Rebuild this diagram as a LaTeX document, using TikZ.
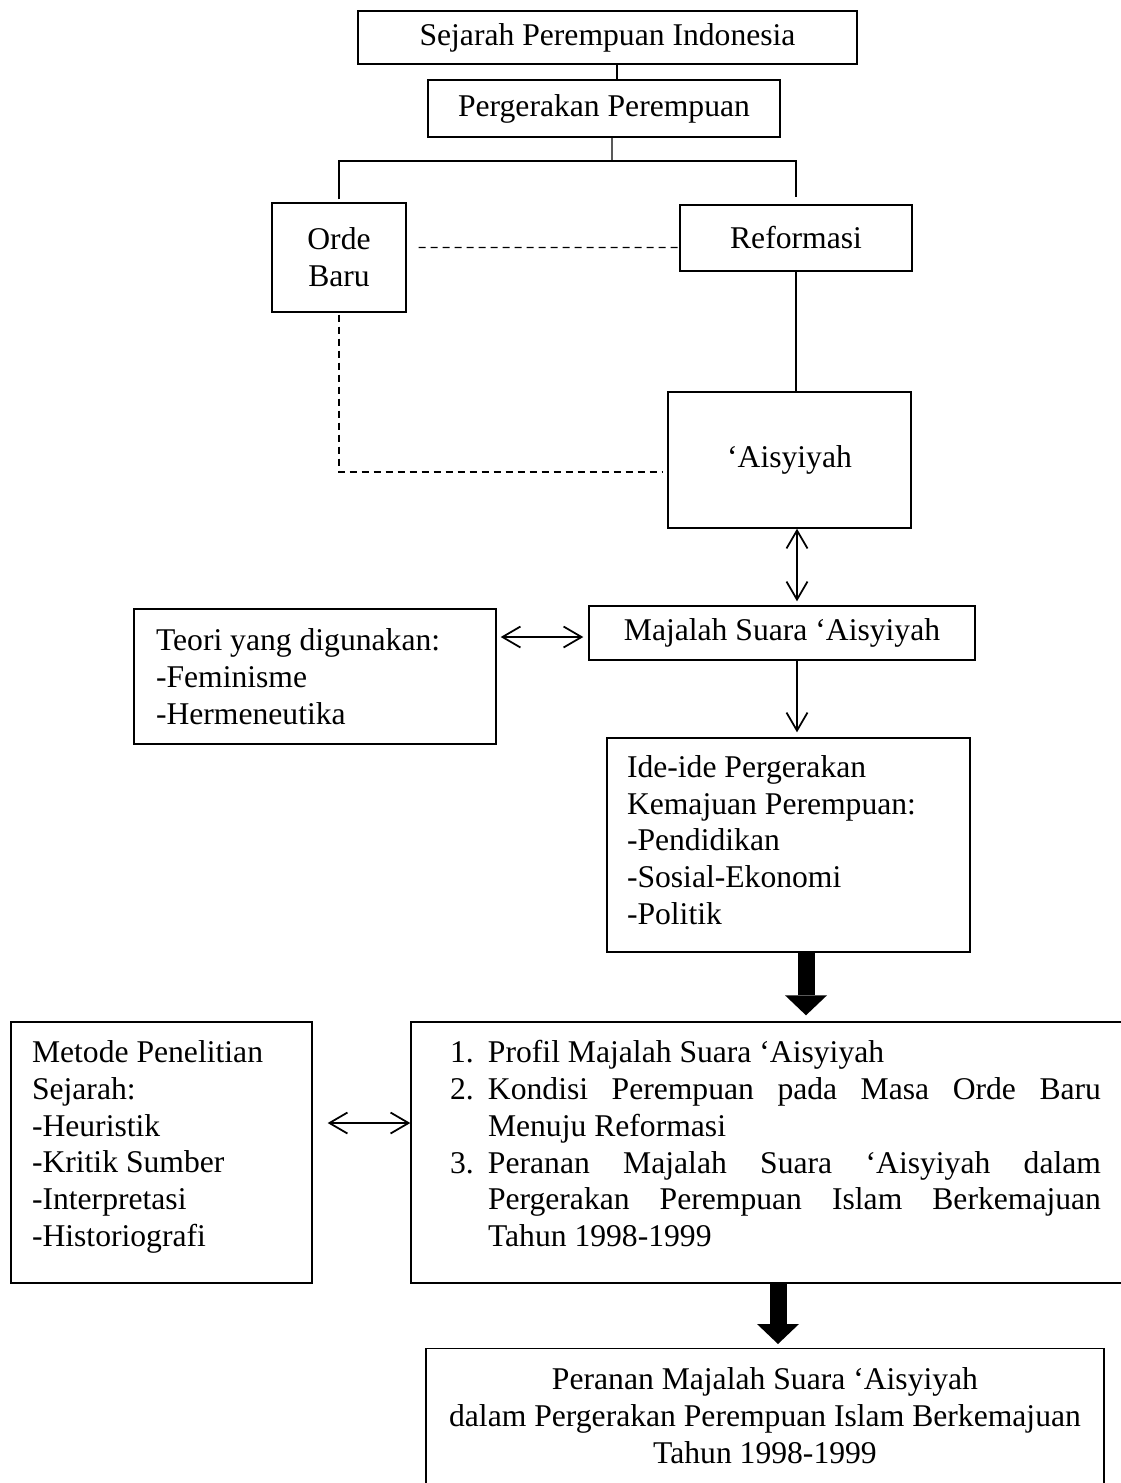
\documentclass[tikz,border=0pt]{standalone}
\usepackage{fontspec}
\setmainfont{Liberation Serif}
\usetikzlibrary{arrows.meta}
\newcommand{\boxfont}{\fontsize{18}{20.9}\selectfont}

\begin{document}
\begin{tikzpicture}[
  box/.style={draw, line width=0.8pt, inner sep=0pt, align=center, font=\boxfont},
  listbox/.style={box, align=flush left},
  link/.style={line width=0.8pt},
  dashln/.style={line width=0.8pt, dash pattern=on 0.14cm off 0.1cm},
  dbl/.style={line width=1pt, {Straight Barb[length=0.36cm,width=0.42cm]}-{Straight Barb[length=0.36cm,width=0.42cm]}},
  sgl/.style={line width=1pt, -{Straight Barb[length=0.36cm,width=0.42cm]}},
  fat/.style={line width=0.34cm, -{Triangle[length=0.4cm,width=0.84cm,line width=0pt]}}
]
\useasboundingbox (0,0) rectangle (22.42,-29.66);

%Top
\node[box, minimum width=9.98cm, minimum height=1.06cm] (sejarah) at (12.15,-0.75) {Sejarah Perempuan Indonesia};
\node[box, minimum width=7.04cm, minimum height=1.14cm] (gerak) at (12.08,-2.17) {Pergerakan Perempuan};

\node[box, minimum width=2.68cm, minimum height=2.18cm] (orde) at (6.78,-5.15) {Orde\\Baru};
\node[box, minimum width=4.64cm, minimum height=1.32cm] (reform) at (15.92,-4.76) {Reformasi};

\node[box, minimum width=4.86cm, minimum height=2.72cm] (aisyiyah) at (15.79,-9.2) {‘Aisyiyah};

%Middle
\node[box, minimum width=7.72cm, minimum height=1.08cm] (majalah) at (15.64,-12.66) {Majalah Suara ‘Aisyiyah};
\node[listbox, text width=6.36cm, inner xsep=0.44cm, minimum height=2.7cm] (teori) at (6.3,-13.53)
  {Teori yang digunakan:\\-Feminisme\\-Hermeneutika};
\node[listbox, text width=6.46cm, inner xsep=0.4cm, minimum height=4.28cm] (ide) at (15.77,-16.9)
  {Ide-ide Pergerakan\\Kemajuan Perempuan:\\-Pendidikan\\-Sosial-Ekonomi\\-Politik\rule[-0.2cm]{0pt}{0pt}};

%Bottom
\node[listbox, text width=5.18cm, inner xsep=0.42cm, minimum height=5.22cm] (metode) at (3.23,-23.05)
  {Metode Penelitian\\Sejarah:\\-Heuristik\\-Kritik Sumber\\-Interpretasi\\-Historiografi\rule[-0.36cm]{0pt}{0pt}};
\node[listbox, text width=13.02cm, inner xsep=0.78cm, minimum height=5.22cm] (main) at (15.51,-23.05) {%
  \makebox[0.76cm][l]{1.}Profil Majalah Suara ‘Aisyiyah\\
  \makebox[0.76cm][l]{2.}\makebox[12.26cm][l]{Kondisi\hfill Perempuan\hfill pada\hfill Masa\hfill Orde\hfill Baru}\\
  \hspace*{0.76cm}Menuju Reformasi\\
  \makebox[0.76cm][l]{3.}\makebox[12.26cm][l]{Peranan\hfill Majalah\hfill Suara\hfill ‘Aisyiyah\hfill dalam}\\
  \hspace*{0.76cm}\makebox[12.26cm][l]{Pergerakan\hfill Perempuan\hfill Islam\hfill Berkemajuan}\\
  \hspace*{0.76cm}Tahun 1998-1999\rule[-0.36cm]{0pt}{0pt}};

\node[box, minimum width=13.56cm, inner ysep=0.38cm, anchor=north] (final) at (15.3,-26.96)
  {Peranan Majalah Suara ‘Aisyiyah\\dalam Pergerakan Perempuan Islam Berkemajuan\\Tahun 1998-1999\rule[-2cm]{0pt}{0pt}};

%Links
\draw[link] ([xshift=0.26cm]gerak.north) -- ([xshift=0.26cm]gerak.north |- sejarah.south);
\coordinate (split) at (12.24,-3.22);
\draw[link] ([xshift=0.16cm]gerak.south) -- (split);
\draw[link] ([yshift=0.06cm]orde.north) |- (split) -| ([yshift=0.14cm]reform.north);
\draw[dashln] ([xshift=0.24cm,yshift=0.2cm]orde.east) -- ([yshift=-0.19cm]reform.west);
\draw[link] (reform.south) -- (reform.south |- aisyiyah.north);
\draw[dashln] ([yshift=-0.04cm]orde.south) |- ([xshift=-0.08cm,yshift=-0.24cm]aisyiyah.west);

\draw[dbl, shorten >=0.08cm] ([xshift=0.15cm]aisyiyah.south) -- ([xshift=0.3cm]majalah.north);
\draw[dbl] ([xshift=0.08cm,yshift=-0.08cm]teori.east |- majalah.west) -- ([xshift=-0.1cm,yshift=-0.08cm]majalah.west);
\draw[sgl, shorten >=0.1cm] ([xshift=0.3cm]majalah.south) -- ([xshift=0.3cm]majalah.south |- ide.north);
\draw[fat, shorten >=0.12cm] ([xshift=0.35cm]ide.south) -- ([xshift=0.35cm]ide.south |- main.north);

\draw[dbl] ([xshift=0.3cm,yshift=0.59cm]metode.east) -- ([yshift=0.59cm]main.west);
\draw[fat, shorten >=0.08cm] ([xshift=0.05cm]main.south) -- ([xshift=0.05cm]main.south |- final.north);

\end{tikzpicture}
\end{document}
